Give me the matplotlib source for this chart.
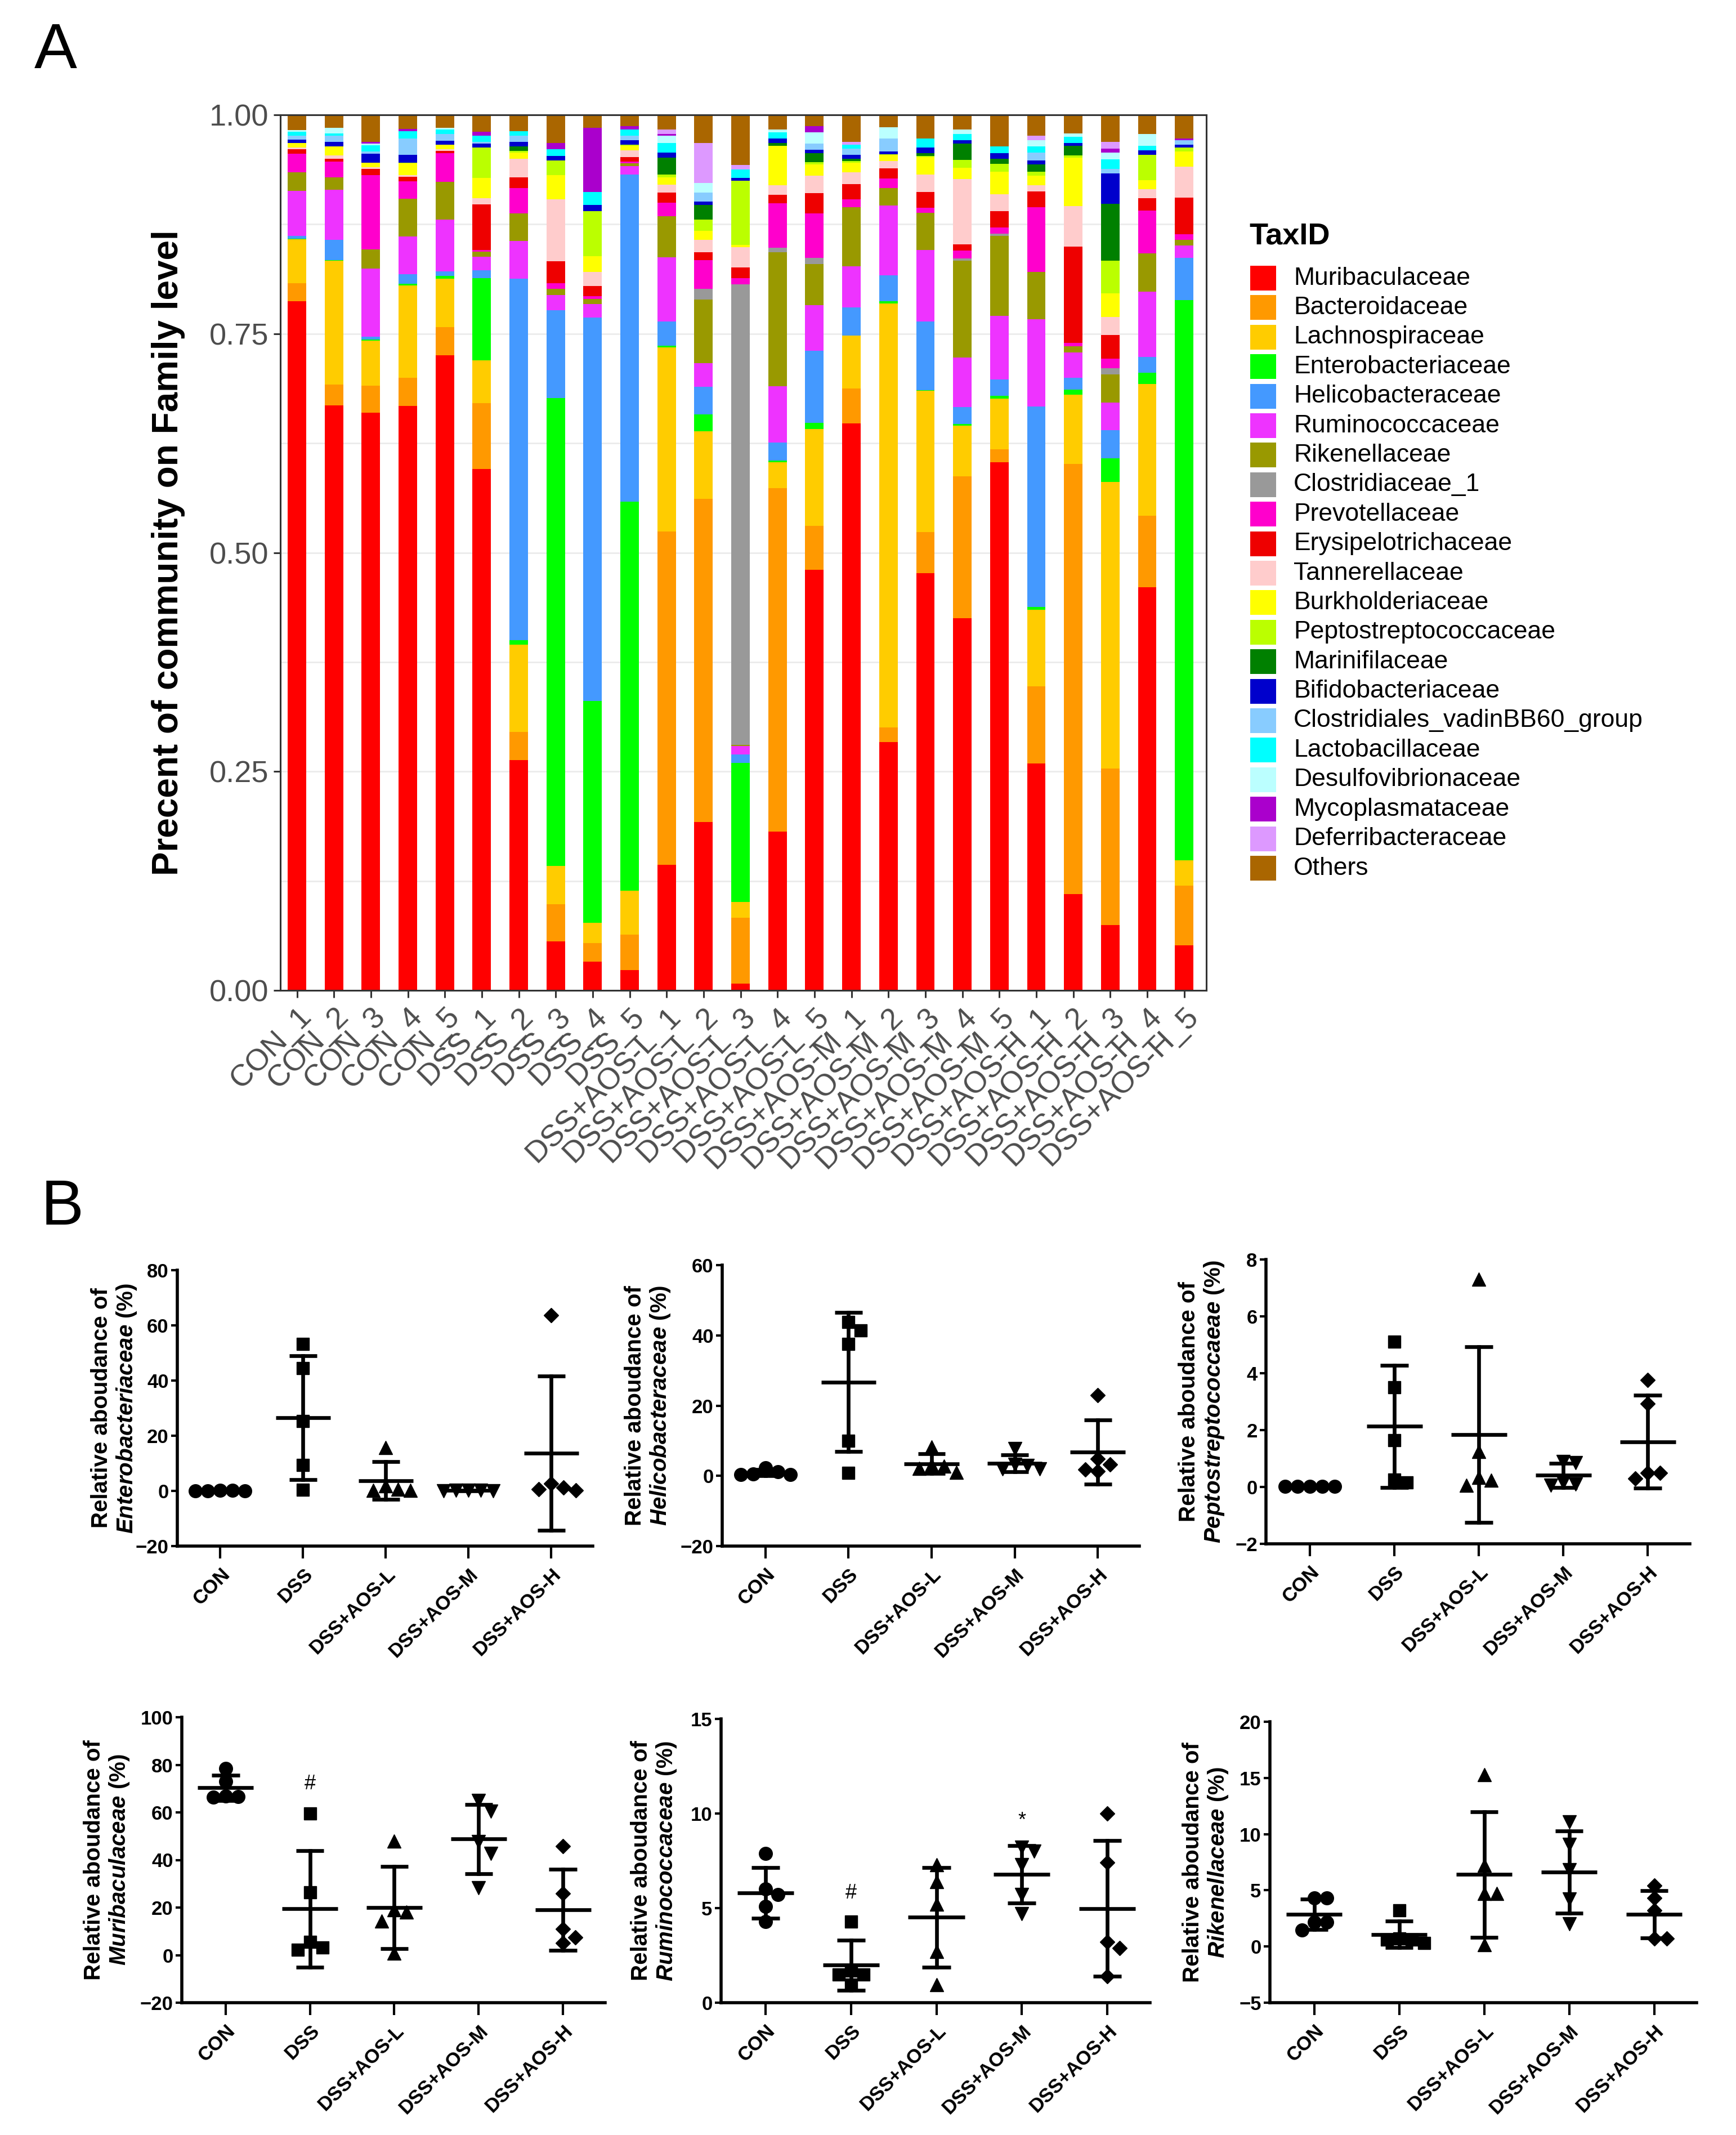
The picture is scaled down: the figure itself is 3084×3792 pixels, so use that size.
import numpy as np
import matplotlib
matplotlib.use("Agg")
import matplotlib.pyplot as plt
from matplotlib.patches import Rectangle
from matplotlib.ticker import MultipleLocator

plt.rcParams['font.family'] = ['Liberation Sans', 'DejaVu Sans']
plt.rcParams['mathtext.fontset'] = 'custom'
plt.rcParams['mathtext.it'] = 'Liberation Sans:italic:bold'
plt.rcParams['mathtext.rm'] = 'Liberation Sans:bold'
plt.rcParams['mathtext.bf'] = 'Liberation Sans:bold'

# ---------------- data ----------------
groups = ["CON", "DSS", "DSS+AOS-L", "DSS+AOS-M", "DSS+AOS-H"]
samples = [f"{g}_{i}" for g in groups for i in range(1, 6)]

taxa = ["Muribaculaceae", "Bacteroidaceae", "Lachnospiraceae", "Enterobacteriaceae",
        "Helicobacteraceae", "Ruminococcaceae", "Rikenellaceae", "Clostridiaceae_1",
        "Prevotellaceae", "Erysipelotrichaceae", "Tannerellaceae", "Burkholderiaceae",
        "Peptostreptococcaceae", "Marinifilaceae", "Bifidobacteriaceae",
        "Clostridiales_vadinBB60_group", "Lactobacillaceae", "Desulfovibrionaceae",
        "Mycoplasmataceae", "Deferribacteraceae", "Others"]

muribaculaceae = [0.784, 0.667, 0.665, 0.669, 0.730, 0.595, 0.264, 0.056, 0.033, 0.023,
                  0.143, 0.191, 0.008, 0.181, 0.480, 0.649, 0.284, 0.476, 0.427, 0.605,
                  0.260, 0.110, 0.075, 0.457, 0.051]
bacteroidaceae = [0.020, 0.024, 0.031, 0.032, 0.032, 0.075, 0.032, 0.042, 0.021, 0.041,
                  0.380, 0.366, 0.075, 0.392, 0.050, 0.040, 0.017, 0.047, 0.163, 0.015,
                  0.088, 0.490, 0.179, 0.081, 0.068]
lachnospiraceae = [0.050, 0.141, 0.052, 0.106, 0.056, 0.049, 0.100, 0.044, 0.023, 0.050,
                   0.210, 0.077, 0.018, 0.029, 0.111, 0.061, 0.485, 0.161, 0.058, 0.058,
                   0.088, 0.079, 0.329, 0.149, 0.029]
enterobacteriaceae = [0.001, 0.001, 0.001, 0.002, 0.003, 0.094, 0.005, 0.533, 0.253, 0.445,
                      0.002, 0.019, 0.158, 0.002, 0.007, 0.000, 0.002, 0.001, 0.002, 0.003,
                      0.003, 0.006, 0.027, 0.013, 0.637]
helicobacteraceae = [0.003, 0.023, 0.003, 0.011, 0.005, 0.009, 0.414, 0.100, 0.438, 0.375,
                     0.028, 0.031, 0.010, 0.021, 0.082, 0.032, 0.030, 0.078, 0.019, 0.019,
                     0.230, 0.013, 0.032, 0.018, 0.048]
ruminococcaceae = [0.051, 0.057, 0.079, 0.043, 0.060, 0.015, 0.043, 0.017, 0.015, 0.0095,
                   0.073, 0.027, 0.0095, 0.064, 0.052, 0.047, 0.080, 0.082, 0.057, 0.073,
                   0.100, 0.029, 0.032, 0.074, 0.014]
rikenellaceae = [0.0215, 0.0144, 0.0215, 0.043, 0.043, 0.006, 0.032, 0.007, 0.006, 0.003,
                 0.047, 0.072, 0.0015, 0.153, 0.047, 0.068, 0.020, 0.042, 0.111, 0.091,
                 0.054, 0.007, 0.032, 0.043, 0.007]
clostridiaceae_1 = [0, 0, 0, 0, 0, 0, 0, 0, 0, 0,
                    0, 0.012, 0.525, 0.005, 0.007, 0, 0, 0, 0.003, 0.003,
                    0, 0, 0.007, 0, 0]
prevotellaceae = [0.021, 0.018, 0.086, 0.020, 0.033, 0.002, 0.029, 0.007, 0.003, 0.002,
                  0.015, 0.033, 0.007, 0.051, 0.051, 0.009, 0.011, 0.006, 0.009, 0.007,
                  0.074, 0.004, 0.011, 0.049, 0.006]
erysipelotrichaceae = [0.005, 0.003, 0.007, 0.005, 0.003, 0.052, 0.012, 0.025, 0.012, 0.005,
                       0.012, 0.009, 0.012, 0.009, 0.023, 0.017, 0.011, 0.018, 0.007, 0.019,
                       0.018, 0.110, 0.027, 0.014, 0.042]
tannerellaceae = [0.002, 0.004, 0.002, 0.002, 0.002, 0.007, 0.021, 0.070, 0.016, 0.008,
                  0.009, 0.014, 0.023, 0.011, 0.020, 0.014, 0.009, 0.020, 0.075, 0.019,
                  0.007, 0.046, 0.021, 0.010, 0.035]
burkholderiaceae = [0.005, 0.010, 0.005, 0.014, 0.005, 0.023, 0.007, 0.028, 0.018, 0.005,
                    0.008, 0.010, 0.003, 0.045, 0.013, 0.011, 0.007, 0.020, 0.013, 0.026,
                    0.011, 0.055, 0.027, 0.010, 0.017]
peptostreptococcaceae = [0.0002, 0.0001, 0.0001, 0.0001, 0.0002, 0.035, 0.0025, 0.0165, 0.051, 0.0015,
                         0.0034, 0.0125, 0.073, 0.0005, 0.0023, 0.0015, 0.0005, 0.001, 0.0085, 0.009,
                         0.0049, 0.003, 0.0376, 0.0293, 0.0049]
marinifilaceae = [0, 0, 0, 0, 0, 0, 0.005, 0, 0, 0,
                  0.019, 0.017, 0, 0.003, 0.010, 0.003, 0, 0.003, 0.019, 0.006,
                  0.008, 0.011, 0.065, 0, 0]
bifidobacteriaceae = [0.004, 0.005, 0.010, 0.009, 0.004, 0.004, 0.005, 0.005, 0.007, 0.005,
                      0.006, 0.004, 0.003, 0.005, 0.004, 0.004, 0.003, 0.007, 0.004, 0.006,
                      0.005, 0.003, 0.035, 0.005, 0.003]
vadinbb60_group = [0.004, 0.007, 0.003, 0.019, 0.008, 0.002, 0.007, 0, 0, 0.005,
                   0, 0.010, 0, 0, 0.007, 0.007, 0.015, 0, 0, 0,
                   0.009, 0, 0.005, 0, 0.005]
lactobacillaceae = [0.005, 0.003, 0.007, 0.008, 0.005, 0.007, 0.005, 0.008, 0.015, 0.007,
                    0.011, 0, 0.010, 0.007, 0, 0.005, 0, 0.010, 0.007, 0.008,
                    0.007, 0.007, 0.011, 0.005, 0]
desulfovibrionaceae = [0.002, 0.006, 0.002, 0, 0.002, 0, 0, 0, 0, 0,
                       0.008, 0.011, 0, 0.003, 0.013, 0, 0.013, 0, 0.005, 0,
                       0.007, 0.004, 0.008, 0.013, 0]
mycoplasmataceae = [0, 0, 0.002, 0.003, 0, 0.005, 0, 0.007, 0.073, 0.004,
                    0.002, 0, 0, 0, 0.007, 0, 0, 0, 0, 0,
                    0, 0, 0.004, 0, 0.002]
deferribacteraceae = [0, 0, 0, 0, 0, 0, 0, 0, 0, 0,
                      0.005, 0.045, 0.005, 0, 0, 0.003, 0, 0, 0, 0,
                      0.005, 0, 0.008, 0, 0]
others = [0.017, 0.015, 0.031, 0.016, 0.015, 0.019, 0.019, 0.032, 0.015, 0.013,
          0.017, 0.032, 0.057, 0.017, 0.013, 0.031, 0.014, 0.027, 0.017, 0.036,
          0.024, 0.021, 0.031, 0.022, 0.027]

stack = [muribaculaceae, bacteroidaceae, lachnospiraceae, enterobacteriaceae,
         helicobacteraceae, ruminococcaceae, rikenellaceae, clostridiaceae_1,
         prevotellaceae, erysipelotrichaceae, tannerellaceae, burkholderiaceae,
         peptostreptococcaceae, marinifilaceae, bifidobacteriaceae, vadinbb60_group,
         lactobacillaceae, desulfovibrionaceae, mycoplasmataceae, deferribacteraceae, others]

colors = ["#FF0000", "#FF9900", "#FFCC00", "#00FF00", "#4499FF", "#EE33FF", "#999900",
          "#999999", "#FF00CC", "#EE0000", "#FFCCCC", "#FFFF00", "#BBFF00", "#008000",
          "#0000CC", "#88CCFF", "#00FFFF", "#BBFFFF", "#AA00CC", "#DD99FF", "#AA6600"]

# panel B definitions
panelB = [
    (enterobacteriaceae, "Enterobacteriaceae", (-20, 80), [-20, 0, 20, 40, 60, 80]),
    (helicobacteraceae, "Helicobacteraceae", (-20, 60), [-20, 0, 20, 40, 60]),
    (peptostreptococcaceae, "Peptostreptococcaeae", (-2, 8), [-2, 0, 2, 4, 6, 8]),
    (muribaculaceae, "Muribaculaceae", (-20, 100), [-20, 0, 20, 40, 60, 80, 100]),
    (ruminococcaceae, "Ruminococcaceae", (0, 15), [0, 5, 10, 15]),
    (rikenellaceae, "Rikenellaceae", (-5, 20), [-5, 0, 5, 10, 15, 20]),
]
sig_marks = {3: [("#", 1, 72)], 4: [("#", 1, 5.8), ("*", 3, 9.6)]}

# ---------------- figure ----------------
W, H = 3084, 3792
fig = plt.figure(figsize=(W / 100, H / 100), dpi=100)


def rect(left, top, right, bottom):
    return [left / W, 1 - bottom / H, (right - left) / W, (bottom - top) / H]


# ---- Panel A ----
axA = fig.add_axes(rect(498, 204, 2143, 1759))
arr = np.array(stack, dtype=float)
arr = arr / arr.sum(axis=0, keepdims=True)
x = np.arange(len(samples))
bottom = np.zeros(len(samples))
for vals, col in zip(arr, colors):
    axA.bar(x, vals, bottom=bottom, width=0.5, color=col, linewidth=0, zorder=2)
    bottom += vals
axA.set_xlim(-0.45, 24.6)
axA.set_ylim(0, 1)
axA.set_yticks([0, 0.25, 0.5, 0.75, 1.0])
axA.set_yticklabels(["0.00", "0.25", "0.50", "0.75", "1.00"])
axA.yaxis.set_minor_locator(MultipleLocator(0.125))
axA.yaxis.grid(True, which='both', color='#EBEBEB', lw=2)
axA.set_axisbelow(True)
axA.set_xticks(x)
axA.set_xticklabels(samples, rotation=45, ha='right', rotation_mode='anchor')
axA.tick_params(axis='both', which='major', direction='out', length=9, width=2.2,
                color='#333333', labelcolor='#4D4D4D', labelsize=39, pad=6)
axA.tick_params(axis='y', which='minor', length=0)
for s in axA.spines.values():
    s.set_color('#333333')
    s.set_linewidth(2.2)
axA.set_ylabel("Precent of community on Family level", fontsize=46, fontweight='bold')
axA.yaxis.set_label_coords(-0.103, 0.5)

# legend (manual)
fig.text(2219 / W, 1 - 419 / H, "TaxID", fontsize=39, fontweight='bold', va='center', ha='left')
for i, (name, col) in enumerate(zip(taxa, colors)):
    yc = 494 + i * 52.4
    fig.patches.append(Rectangle((2221 / W, 1 - (yc + 22) / H), 46 / W, 44 / H,
                                 transform=fig.transFigure, facecolor=col, edgecolor='none'))
    fig.text(2298 / W, 1 - yc / H, name, fontsize=32, va='center', ha='left')

fig.text(61 / W, 1 - 121 / H, "A", fontsize=82, va='baseline', ha='left')
fig.text(73 / W, 1 - 2175 / H, "B", fontsize=82, va='baseline', ha='left')

# ---- Panel B ----
rectsB = [(315, 2256, 1053, 2746), (1283, 2247, 2024, 2746), (2249, 2237, 3002, 2742),
          (323, 3050, 1075, 3557), (1281, 3053, 2043, 3557), (2256, 3058, 3014, 3557)]
label_right = [-69, -89, -71, -90, -76, -71]
markers = ['o', 's', '^', 'v', 'D']
msizes = [17, 16, 17, 17, 13]


def swarm(ax, xc, vals, diam):
    t = ax.transData
    x0 = t.transform((xc, 0))[0]
    ppu = t.transform((xc + 1, 0))[0] - x0
    ys = [t.transform((xc, v))[1] for v in vals]
    order = np.argsort(vals)[::-1]
    placed = []
    offs = np.zeros(len(vals))
    cands = [0.0]
    for m in range(1, 8):
        cands += [m * diam, -m * diam]
    for i in order:
        chosen = cands[-1]
        for c in cands:
            if all(np.hypot(c - px, ys[i] - py) >= diam * 0.95 for px, py in placed):
                chosen = c
                break
        placed.append((chosen, ys[i]))
        offs[i] = chosen / ppu
    return offs


for k, (vals, name, ylim, yticks) in enumerate(panelB):
    l, t_, r, b = rectsB[k]
    ax = fig.add_axes(rect(l, t_, r, b))
    ax.set_xlim(-0.52, 4.5)
    ax.set_ylim(*ylim)
    pct = np.array(vals, dtype=float) * 100
    for g in range(5):
        gv = pct[g * 5:(g + 1) * 5]
        offs = swarm(ax, g, gv, 22)
        ax.plot(g + offs, gv, linestyle='none', marker=markers[g], ms=msizes[g],
                color='black', zorder=3, clip_on=False)
        m = gv.mean()
        sd = gv.std(ddof=1)
        ax.plot([g - 0.33, g + 0.33], [m, m], color='black', lw=4.8, zorder=4,
                solid_capstyle='butt')
        ax.plot([g, g], [m - sd, m + sd], color='black', lw=4.8, zorder=4, clip_on=False)
        for yy in (m - sd, m + sd):
            ax.plot([g - 0.165, g + 0.165], [yy, yy], color='black', lw=4.8, zorder=4,
                    solid_capstyle='butt', clip_on=False)
    for sym, g, yv in sig_marks.get(k, []):
        ax.text(g, yv, sym, fontsize=26, ha='center', va='center')
    ax.set_yticks(yticks)
    ax.set_yticklabels([str(v) if v >= 0 else "\u2212" + str(-v) for v in yticks])
    ax.set_xticks(range(5))
    ax.set_xticklabels(groups, rotation=45, ha='right', rotation_mode='anchor')
    for lab in ax.get_xticklabels() + ax.get_yticklabels():
        lab.set_fontweight('bold')
    ax.tick_params(axis='y', direction='out', length=8, width=3, labelsize=25, pad=3)
    ax.tick_params(axis='x', direction='out', length=16, width=3, labelsize=25, pad=8)
    for sname in ('top', 'right'):
        ax.spines[sname].set_visible(False)
    for sname in ('left', 'bottom'):
        ax.spines[sname].set_linewidth(4)
    ax.set_ylabel("Relative aboudance of\n$\\mathit{" + name + "}$ (%)",
                  fontsize=29, fontweight='bold', linespacing=1.15)
    ax.yaxis.set_label_coords(label_right[k] / (r - l), 0.5)

fig.savefig("out.png", dpi=100, facecolor='white')
